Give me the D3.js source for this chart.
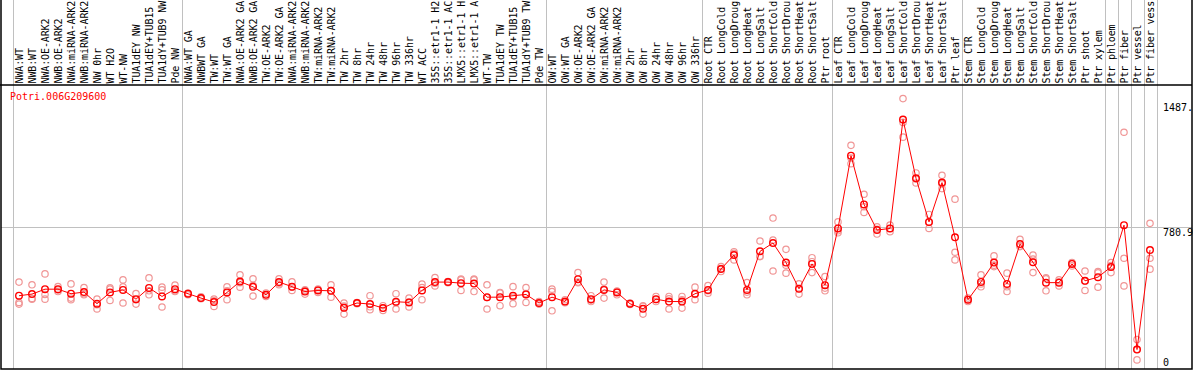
<!DOCTYPE html>
<html>
<head>
<meta charset="utf-8">
<script src="https://cdn.jsdelivr.net/npm/d3@7"></script>
<style>
	body { margin: 0; background: #fff; }
	svg { display: block; font-family: "DejaVu Sans Mono", monospace; font-size: 10px; }
	.sep { stroke: #c0c0c0; stroke-width: 1; }
	.frame { stroke: #000; stroke-width: 1.5; fill: none; }
	.rep { fill: none; stroke: #f09696; stroke-width: 1.2; }
	.mean { fill: none; stroke: #ff0000; stroke-width: 1.4; }
	.mean-line { fill: none; stroke: #ff0000; stroke-width: 1; }
	.sample { letter-spacing: -0.12px; }
</style>
</head>
<body>
<svg id="chart" width="1194" height="370"></svg>
<script>
const geneId = "Potri.006G209600";

// sample names as far as the picture shows them
const categories = [
	"NWA:WT", "NWB:WT", "NWA:OE-ARK2", "NWB:OE-ARK2", "NWA:miRNA-ARK2", "NWB:miRNA-ARK2",
	"NW 0hr", "WT H2O", "WT-NW", "TUA1dEY NW", "TUA1dEY+TUB15", "TUA1dY+TUB9 NW", "Pde NW",
	"NWA:WT GA", "NWBWT GA", "TW:WT", "TW:WT GA", "NWA:OE-ARK2 GA", "NWB:OE-ARK2 GA",
	"TW:OE-ARK2", "TW:OE-ARK2 GA", "NWA:miRNA-ARK2", "NWB:miRNA-ARK2", "TW:miRNA-ARK2",
	"TW:miRNA-ARK2 ", "TW 2hr", "TW 8hr", "TW 24hr", "TW 48hr", "TW 96hr", "TW 336hr",
	"WT ACC", "35S::etr1-1 H2", "35S::etr1-1 AC", "LMX5::etr1-1 H", "LMX5::etr1-1 A",
	"WT-TW", "TUA1dEY TW", "TUA1dEY+TUB15 ", "TUA1dY+TUB9 TW", "Pde TW",
	"OW:WT", "OW:WT GA", "OW:OE-ARK2", "OW:OE-ARK2 GA", "OW:miRNA-ARK2", "OW:miRNA-ARK2 ",
	"OW 2hr", "OW 8hr", "OW 24hr", "OW 48hr", "OW 96hr", "OW 336hr",
	"Root CTR", "Root LongCold", "Root LongDroug", "Root LongHeat", "Root LongSalt",
	"Root ShortCold", "Root ShortDrou", "Root ShortHeat", "Root ShortSalt", "Ptr root",
	"Leaf CTR", "Leaf LongCold", "Leaf LongDroug", "Leaf LongHeat", "Leaf LongSalt",
	"Leaf ShortCold", "Leaf ShortDrou", "Leaf ShortHeat", "Leaf ShortSalt", "Ptr leaf",
	"Stem CTR", "Stem LongCold", "Stem LongDroug", "Stem LongHeat", "Stem LongSalt",
	"Stem ShortCold", "Stem ShortDrou", "Stem ShortHeat", "Stem ShortSalt", "Ptr shoot",
	"Ptr xylem", "Ptr phloem", "Ptr fiber", "Ptr vessel", "Ptr fiber vess"
];

// number of samples in each block between the grey separators
const groupSizes = [13, 28, 12, 10, 10, 11, 1, 1, 1, 1];

const meanValues = [
	403, 412, 439, 439, 414, 423, 359, 421, 435, 384, 446, 399, 439,
	414, 390, 368, 421, 481, 452, 408, 478, 453, 426, 432, 430, 337, 363, 357, 335, 370, 366,
	432, 478, 478, 472, 470, 395, 395, 403, 410, 363,
	395, 371, 494, 384, 435, 421, 359, 331, 384, 371, 371, 414,
	435, 550, 627, 435, 647, 693, 585, 441, 578, 461,
	773, 1173, 905, 764, 773, 1372, 1049, 809, 1025, 724,
	381, 479, 585, 468, 687, 587, 475, 475, 578, 485, 505,
	561, 791, 107, 654
];

const replicates = [
	[478, 366, 357], [463, 384, 388], [523, 384, 410], [453, 426, 435], [468, 390, 381],
	[448, 408, 414], [384, 353, 330], [439, 377, 446], [490, 363, 452], [415, 357, 381],
	[501, 408, 430], [450, 435, 341], [461, 426, 430],
	[417, 408, 415], [397, 386, 390], [384, 344, 375], [452, 381, 430], [518, 450, 475],
	[496, 401, 459], [417, 399, 408], [496, 464, 472], [479, 450, 432], [435, 412, 432],
	[435, 421, 439], [463, 395, 432], [363, 302, 346], [366, 359, 363], [403, 326, 342],
	[348, 322, 335], [414, 330, 366], [390, 341, 368], [467, 381, 448], [503, 457, 472],
	[481, 478, 474], [490, 432, 494], [490, 426, 494], [463, 330, 393], [421, 348, 417],
	[453, 359, 395], [448, 366, 415], [371, 359, 357],
	[439, 320, 426], [381, 370, 364], [530, 478, 474], [403, 371, 379], [478, 390, 439],
	[426, 408, 428], [363, 355, 359], [348, 302, 344], [399, 371, 382], [399, 330, 386],
	[399, 335, 381], [450, 381, 410],
	[459, 417, 430], [563, 536, 552], [645, 600, 636], [475, 408, 423], [704, 618, 620],
	[830, 709, 539], [658, 527, 571], [468, 412, 443], [612, 530, 590], [508, 430, 445],
	[809, 749, 760], [1230, 1129, 1160], [961, 861, 892], [782, 742, 768], [791, 755, 773],
	[1487, 1356, 1275], [1078, 1023, 1045], [850, 773, 806], [1065, 992, 1018], [934, 642, 600],
	[390, 371, 381], [518, 452, 468], [622, 563, 571], [527, 426, 452], [713, 673, 676],
	[627, 530, 604], [496, 430, 501], [490, 457, 479], [585, 567, 582], [539, 432, 483],
	[536, 450, 529],
	[585, 530, 569], [1302, 609, 457], [162, 50, 108], [801, 609, 549]
];

const yDomainMax = 1561.8;
const yTickValues = [0, 780.9, 1487];
const yTickLabels = ["0", "780.9", "1487."];

const plotTop = 85;
const plotBottom = 369;
const plotRight = 1192;

const svg = d3.select("#chart");

const x = d3.scalePoint()
	.domain(d3.range(categories.length))
	.range([19, 1150]);
const step = x.step();

const y = d3.scaleLinear()
	.domain([0, yDomainMax])
	.range([plotBottom, plotTop]);

// grey block separators, running through the label area too
const sepIndex = [0];
groupSizes.forEach(size => sepIndex.push(sepIndex[sepIndex.length - 1] + size));
svg.append("g")
	.selectAll("line")
	.data(sepIndex)
	.join("line")
	.attr("class", "sep")
	.attr("x1", i => Math.round(x(0) + (i - 0.5) * step) + 0.5)
	.attr("x2", i => Math.round(x(0) + (i - 0.5) * step) + 0.5)
	.attr("y1", 0)
	.attr("y2", plotBottom);

// middle gridline
svg.append("line")
	.attr("class", "sep")
	.attr("x1", 1)
	.attr("x2", plotRight)
	.attr("y1", Math.round(y(yTickValues[1])) + 0.5)
	.attr("y2", Math.round(y(yTickValues[1])) + 0.5);

// frame
svg.append("path")
	.attr("class", "frame")
	.attr("d", `M1,0V${plotBottom}H${plotRight}V0M0,${plotTop}H${plotRight}`);

// sample labels, rotated, reading upwards
svg.append("g")
	.selectAll("text")
	.data(categories)
	.join("text")
	.attr("class", "sample")
	.attr("transform", (d, i) => `translate(${x(i) + 3.5},${plotTop - 1.5}) rotate(-90)`)
	.attr("fill", "#000")
	.text(d => d);

// gene id
svg.append("text")
	.attr("x", 10)
	.attr("y", plotTop + 15)
	.attr("fill", "#ff0000")
	.text(geneId);

// value labels on the right
svg.append("g")
	.selectAll("text")
	.data(yTickValues)
	.join("text")
	.attr("x", 1163)
	.attr("y", (v, i) => {
		if (i === 0) return y(v) - 3;
		if (i === yTickValues.length - 1) return y(v) + 12.5;
		return y(v) + 8.5;
	})
	.attr("fill", "#000")
	.text((v, i) => yTickLabels[i]);

// replicate circles
const repData = [];
replicates.forEach((reps, i) => reps.forEach(v => repData.push({idx: i, value: v})));
svg.append("g")
	.selectAll("circle")
	.data(repData)
	.join("circle")
	.attr("class", "rep")
	.attr("cx", d => x(d.idx))
	.attr("cy", d => y(d.value))
	.attr("r", 3.2);

// mean line
const line = d3.line()
	.x((v, i) => x(i))
	.y(v => y(v));
svg.append("path")
	.attr("class", "mean-line")
	.attr("d", line(meanValues));

// mean circles
svg.append("g")
	.selectAll("circle")
	.data(meanValues)
	.join("circle")
	.attr("class", "mean")
	.attr("cx", (v, i) => x(i))
	.attr("cy", v => y(v))
	.attr("r", 3.3);
</script>
</body>
</html>
